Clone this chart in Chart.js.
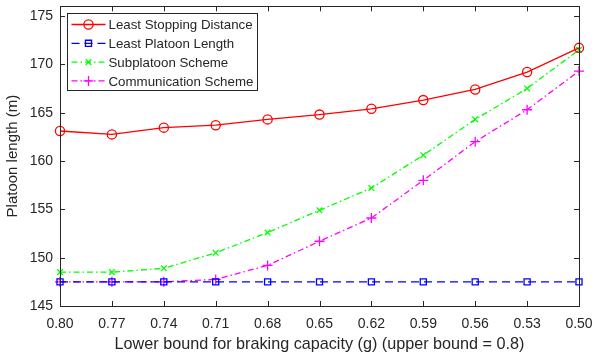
<!DOCTYPE html>
<html>
<head>
<meta charset="utf-8">
<script src="https://cdn.jsdelivr.net/npm/chart.js@4"></script>
<style>
    html, body { margin: 0; padding: 0; background: #fff; }
    #wrap { width: 594px; height: 360px; }
</style>
</head>
<body>
<div id="wrap"><canvas id="platoonChart" width="594" height="360"></canvas></div>
<script>
// 横轴：制动能力下界
const brakingLabels = ['0.80', '0.77', '0.74', '0.71', '0.68', '0.65', '0.62', '0.59', '0.56', '0.53', '0.50'];

// 各方案的车队长度 (m)
const leastStopping = [163.1, 162.75, 163.45, 163.7, 164.3, 164.8, 165.4, 166.3, 167.4, 169.2, 171.7];
const leastPlatoon = [147.5, 147.5, 147.5, 147.5, 147.5, 147.5, 147.5, 147.5, 147.5, 147.5, 147.5];
const subplatoon = [148.5, 148.5, 148.9, 150.5, 152.6, 154.9, 157.2, 160.6, 164.3, 167.5, 171.5];
const communication = [147.5, 147.5, 147.5, 147.75, 149.2, 151.7, 154.1, 158.0, 162.0, 165.3, 169.3];

const yTicks = [145, 150, 155, 160, 165, 170, 175];

const FONT = '"Liberation Sans", Arial, sans-serif';
const TEXT_COLOR = '#262626';

/**
 * 画坐标框、内向刻度和图例（仿 MATLAB 风格）
 */
const matlabFrame = {
    id: 'matlabFrame',
    afterDatasetsDraw(chart) {
        const { ctx, chartArea: a, scales } = chart;
        ctx.save();
        ctx.strokeStyle = TEXT_COLOR;
        ctx.lineWidth = 1;
        ctx.setLineDash([]);
        ctx.strokeRect(Math.round(a.left) + 0.5, Math.round(a.top) + 0.5,
            Math.round(a.right - a.left), Math.round(a.bottom - a.top));

        // 内向刻度
        const len = 5;
        ctx.beginPath();
        brakingLabels.forEach((_, i) => {
            const x = Math.round(scales.x.getPixelForValue(i)) + 0.5;
            ctx.moveTo(x, a.bottom); ctx.lineTo(x, a.bottom - len);
            ctx.moveTo(x, a.top); ctx.lineTo(x, a.top + len);
        });
        yTicks.forEach(v => {
            const y = Math.round(scales.y.getPixelForValue(v)) + 0.5;
            ctx.moveTo(a.left, y); ctx.lineTo(a.left + len, y);
            ctx.moveTo(a.right, y); ctx.lineTo(a.right - len, y);
        });
        ctx.stroke();

        // 图例
        const bx = 67.5, by = 13.5, bw = 190, bh = 77;
        ctx.fillStyle = '#fff';
        ctx.fillRect(bx, by, bw, bh);
        ctx.strokeStyle = '#262626';
        ctx.strokeRect(bx, by, bw, bh);
        ctx.font = '13.3px ' + FONT;
        ctx.textBaseline = 'middle';
        chart.data.datasets.forEach((ds, i) => {
            const y = by + 11 + i * 18.8;
            ctx.strokeStyle = ds.borderColor;
            ctx.lineWidth = ds.borderWidth;
            ctx.setLineDash(ds.borderDash || []);
            ctx.beginPath();
            ctx.moveTo(bx + 4, y);
            ctx.lineTo(bx + 38, y);
            ctx.stroke();
            ctx.setLineDash([]);
            ctx.fillStyle = 'rgba(0,0,0,0)';
            Chart.helpers.drawPoint(ctx, {
                pointStyle: ds.pointStyle,
                radius: ds.pointRadius,
                rotation: 0,
                borderWidth: ds.borderWidth
            }, bx + 21, y);
            ctx.fillStyle = TEXT_COLOR;
            ctx.fillText(ds.label, bx + 41, y + 1);
        });
        ctx.restore();
    }
};

function makeDataset(label, data, color, dash, style, radius) {
    return {
        label: label,
        data: data,
        borderColor: color,
        backgroundColor: 'rgba(0,0,0,0)',
        borderWidth: 1.3,
        borderDash: dash,
        pointStyle: style,
        pointRadius: radius,
        pointBorderColor: color,
        pointBackgroundColor: 'rgba(0,0,0,0)',
        pointBorderWidth: 1.3,
        tension: 0,
        fill: false
    };
}

new Chart(document.getElementById('platoonChart'), {
    type: 'line',
    data: {
        labels: brakingLabels,
        datasets: [
            makeDataset('Least Stopping Distance', leastStopping, '#ff0000', [], 'circle', 4.6),
            makeDataset('Least Platoon Length', leastPlatoon, '#0000ff', [8, 5], 'rect', 4.3),
            makeDataset('Subplatoon Scheme', subplatoon, '#00ff00', [6, 3, 1.5, 3], 'crossRot', 4),
            makeDataset('Communication Scheme', communication, '#ff00ff', [6, 3, 1.5, 3], 'cross', 5)
        ]
    },
    options: {
        responsive: false,
        animation: false,
        layout: { padding: { left: 0, right: 15, top: 4, bottom: 0 } },
        plugins: {
            legend: { display: false },
            tooltip: { enabled: false }
        },
        scales: {
            x: {
                type: 'category',
                offset: false,
                grid: { display: false, drawTicks: false },
                border: { display: false },
                ticks: {
                    color: TEXT_COLOR,
                    font: { family: FONT, size: 14 },
                    padding: 10,
                    maxRotation: 0,
                    autoSkip: false
                },
                title: {
                    display: true,
                    text: 'Lower bound for braking capacity (g) (upper bound = 0.8)',
                    color: TEXT_COLOR,
                    font: { family: FONT, size: 16.2 },
                    padding: { top: 4, bottom: 6 }
                },
                afterFit(scale) {
                    scale.height = 54;
                    // 不让末端刻度标签挤压绘图区
                    scale.paddingLeft = 0;
                    scale.paddingRight = 0;
                }
            },
            y: {
                min: 145,
                max: 176,
                grid: { display: false, drawTicks: false },
                border: { display: false },
                afterBuildTicks(scale) {
                    scale.ticks = yTicks.map(v => ({ value: v }));
                },
                ticks: {
                    color: TEXT_COLOR,
                    font: { family: FONT, size: 14 },
                    padding: 7
                },
                title: {
                    display: true,
                    text: 'Platoon length (m)',
                    color: TEXT_COLOR,
                    font: { family: FONT, size: 15 },
                    padding: { top: 4, bottom: 4 }
                },
                afterFit(scale) {
                    scale.width = 60;
                    scale.paddingTop = 0;
                    scale.paddingBottom = 0;
                }
            }
        }
    },
    plugins: [matlabFrame]
});
</script>
</body>
</html>
